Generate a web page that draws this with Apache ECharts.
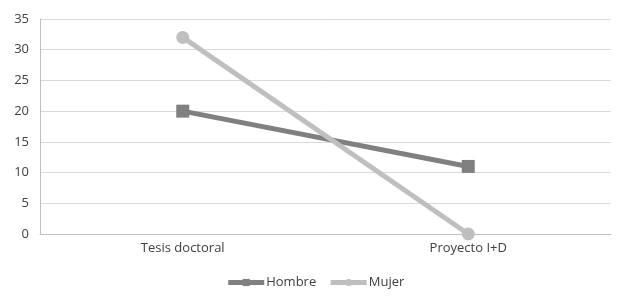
<!DOCTYPE html>
<html><head><meta charset="utf-8">
<script src="https://cdn.jsdelivr.net/npm/echarts@6/dist/echarts.min.js"></script>
<style>html,body{margin:0;padding:0;background:#fff}#c{width:630px;height:304px}</style>
</head><body><div id="c"></div>
<script>
const categories = ["Tesis doctoral", "Proyecto I+D"];
const hombre = [20, 11];
const mujer = [32, 0];
const yTicks = {min: 0, max: 35, interval: 5};

const chart = echarts.init(document.getElementById('c'), null, {renderer: 'canvas'});
chart.setOption({
  animation: false,
  textStyle: {fontFamily: 'Open Sans', color: '#404040'},
  grid: {left: 40, right: 19, top: 19, bottom: 70},
  legend: {
    top: 271, left: 'center', itemWidth: 36, itemHeight: 9, itemGap: 12,
    lineStyle: {width: 5},
    textStyle: {fontFamily: 'Open Sans', fontSize: 13, color: '#404040', padding: [0, 0, 0, -3]},
    data: ['Hombre', 'Mujer']
  },
  xAxis: {
    type: 'category', data: categories, boundaryGap: true,
    axisLine: {lineStyle: {color: '#bfbfbf', width: 1}},
    axisTick: {show: false},
    axisLabel: {fontFamily: 'Open Sans', fontSize: 13, color: '#404040', margin: 8}
  },
  yAxis: {
    type: 'value', min: yTicks.min, max: yTicks.max, interval: yTicks.interval,
    axisLine: {show: true, lineStyle: {color: '#bfbfbf', width: 1}},
    axisTick: {show: false},
    axisLabel: {fontFamily: 'Open Sans', fontSize: 13, color: '#404040', margin: 11},
    splitLine: {lineStyle: {color: '#d9d9d9', width: 1}}
  },
  series: [
    {name: 'Hombre', type: 'line', data: hombre, symbol: 'rect', symbolSize: 13,
     lineStyle: {color: '#808080', width: 5}, itemStyle: {color: '#808080'}},
    {name: 'Mujer', type: 'line', data: mujer, symbol: 'circle', symbolSize: 13,
     lineStyle: {color: '#bfbfbf', width: 5}, itemStyle: {color: '#bfbfbf'}}
  ]
});
</script></body></html>
